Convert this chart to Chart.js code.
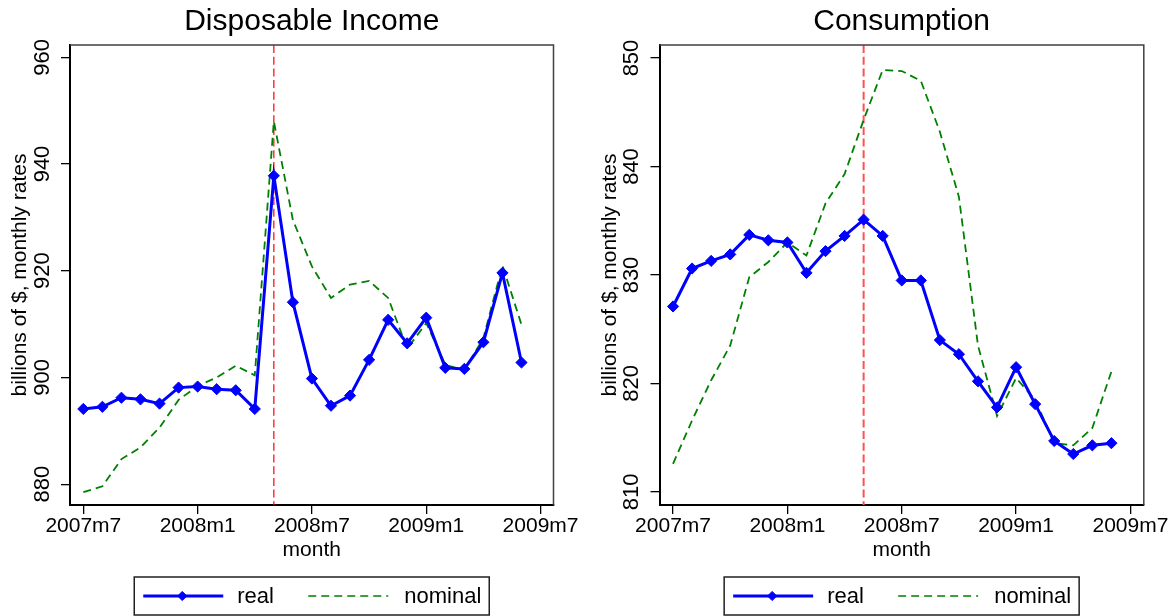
<!DOCTYPE html>
<html>
<head>
<meta charset="utf-8">
<title>Disposable Income and Consumption</title>
<script src="https://cdn.jsdelivr.net/npm/chart.js@4.4.1/dist/chart.umd.min.js"></script>
<style>
  html, body { margin: 0; padding: 0; background: #ffffff; }
  #wrap { position: relative; width: 1174px; height: 616px; overflow: hidden; background: #ffffff; }
  .panel { position: absolute; top: 0; width: 587px; height: 616px; }
  .panel canvas { display: block; }
</style>
</head>
<body>
<div id="wrap">
  <div class="panel" style="left:0px"><canvas id="income" width="587" height="616"></canvas></div>
  <div class="panel" style="left:587px"><canvas id="consumption" width="587" height="616"></canvas></div>
</div>
<script>
// Monthly observations, 2007m7 .. 2009m6 (billions of $, monthly rates)
const months = ['2007m7','2007m8','2007m9','2007m10','2007m11','2007m12',
                '2008m1','2008m2','2008m3','2008m4','2008m5','2008m6',
                '2008m7','2008m8','2008m9','2008m10','2008m11','2008m12',
                '2009m1','2009m2','2009m3','2009m4','2009m5','2009m6'];

const incomeReal    = [894.1, 894.5, 896.2, 895.9, 895.1, 898.1, 898.3, 897.8, 897.6, 894.1,
                       937.8, 914.1, 899.8, 894.7, 896.6, 903.3, 910.8, 906.4, 911.2, 901.8,
                       901.6, 906.6, 919.6, 902.8];
const incomeNominal = [878.5, 879.6, 884.7, 886.9, 890.6, 895.8, 898.4, 900.0, 902.2, 900.4,
                       948.0, 929.5, 920.8, 914.9, 917.4, 918.1, 914.9, 905.4, 910.2, 902.4,
                       901.3, 907.4, 921.0, 909.9];

const consumptionReal    = [827.1, 830.6, 831.3, 831.9, 833.7, 833.2, 833.0, 830.2, 832.2, 833.6,
                            835.1, 833.6, 829.5, 829.5, 824.0, 822.7, 820.2, 817.8, 821.5, 818.1,
                            814.7, 813.5, 814.3, 814.5];
const consumptionNominal = [812.6, 816.6, 820.3, 823.5, 829.8, 831.2, 833.0, 831.8, 836.6, 839.3,
                            844.3, 848.9, 848.8, 847.9, 843.2, 837.2, 823.5, 817.0, 820.5, 818.5,
                            814.5, 814.3, 815.9, 821.1];

// Month of the one-off payment, marked by the dashed vertical line
const eventMonth = '2008m5';

// Axis tick labels
const xTickLabels = ['2007m7', '2008m1', '2008m7', '2009m1', '2009m7'];
const incomeTicks = [880, 900, 920, 940, 960];
const consumptionTicks = [810, 820, 830, 840, 850];

const seriesNames = ['real', 'nominal'];

// "2008m5" -> months since 2007m7
function monthIndex(label) {
  const [y, m] = label.split('m').map(Number);
  return (y - 2007) * 12 + (m - 7);
}

const FONT = '"Liberation Sans", Arial, Helvetica, sans-serif';
Chart.defaults.font.family = FONT;
Chart.defaults.color = '#000000';

const BLUE = '#0000ff';
const GREEN = '#008000';

// Dashed vertical reference line at the event month
const eventLine = {
  id: 'eventLine',
  beforeDatasetsDraw(chart, args, opts) {
    const x = chart.scales.x.getPixelForValue(monthIndex(opts.month));
    const { top, bottom } = chart.chartArea;
    const ctx = chart.ctx;
    ctx.save();
    ctx.strokeStyle = opts.color;
    ctx.lineWidth = opts.width;
    ctx.setLineDash([8, 3.7]);
    ctx.beginPath();
    ctx.moveTo(x, top);
    ctx.lineTo(x, bottom);
    ctx.stroke();
    ctx.restore();
  }
};

// Top and right edges of the plot region
const plotFrame = {
  id: 'plotFrame',
  afterDraw(chart) {
    const { left, right, top, bottom } = chart.chartArea;
    const ctx = chart.ctx;
    ctx.save();
    ctx.strokeStyle = '#404040';
    ctx.lineWidth = 1.5;
    ctx.beginPath();
    ctx.moveTo(left, top);
    ctx.lineTo(right, top);
    ctx.lineTo(right, bottom);
    ctx.stroke();
    ctx.restore();
  }
};

// Boxed legend centred under the plot region
const boxedLegend = {
  id: 'boxedLegend',
  afterDraw(chart) {
    const ctx = chart.ctx;
    const ca = chart.chartArea;
    const w = 355, h = 38;
    const x0 = (ca.left + ca.right) / 2 - w / 2;
    const y0 = 577;
    const cy = y0 + h / 2;
    const [real, nominal] = chart.data.datasets;
    ctx.save();
    ctx.strokeStyle = '#202020';
    ctx.lineWidth = 1.5;
    ctx.strokeRect(x0, y0, w, h);

    // real: solid line with diamond
    ctx.strokeStyle = real.borderColor;
    ctx.fillStyle = real.borderColor;
    ctx.lineWidth = 3;
    ctx.beginPath();
    ctx.moveTo(x0 + 9, cy);
    ctx.lineTo(x0 + 89, cy);
    ctx.stroke();
    ctx.lineWidth = 1;
    ctx.beginPath();
    const r = 4.6, mx = x0 + 48;
    ctx.moveTo(mx, cy - r);
    ctx.lineTo(mx + r, cy);
    ctx.lineTo(mx, cy + r);
    ctx.lineTo(mx - r, cy);
    ctx.closePath();
    ctx.fill();
    ctx.stroke();

    // nominal: dashed line
    ctx.strokeStyle = nominal.borderColor;
    ctx.lineWidth = 1.7;
    ctx.setLineDash([8, 5]);
    ctx.beginPath();
    ctx.moveTo(x0 + 174, cy);
    ctx.lineTo(x0 + 254, cy);
    ctx.stroke();
    ctx.setLineDash([]);

    ctx.fillStyle = '#000000';
    ctx.font = '22px ' + FONT;
    ctx.textBaseline = 'middle';
    ctx.textAlign = 'left';
    ctx.fillText(real.label, x0 + 103, cy + 1);
    ctx.fillText(nominal.label, x0 + 270, cy + 1);
    ctx.restore();
  }
};

function makeChart(canvasId, titleText, real, nominal, yTicks, geo) {
  const toPoints = vals => months.map((m, i) => ({ x: monthIndex(m), y: vals[i] }));
  return new Chart(document.getElementById(canvasId), {
    type: 'line',
    data: {
      datasets: [
        {
          label: seriesNames[0],
          data: toPoints(real),
          borderColor: BLUE,
          backgroundColor: BLUE,
          borderWidth: 3,
          pointStyle: 'rectRot',
          pointRadius: 5.6,
          pointBorderWidth: 1,
          pointBackgroundColor: BLUE,
          pointBorderColor: BLUE,
          tension: 0,
          order: 1
        },
        {
          label: seriesNames[1],
          data: toPoints(nominal),
          borderColor: GREEN,
          backgroundColor: GREEN,
          borderWidth: 1.8,
          borderDash: [8, 5],
          pointRadius: 0,
          tension: 0,
          order: 2
        }
      ]
    },
    options: {
      responsive: false,
      animation: false,
      events: [],
      layout: { padding: { left: 0, right: geo.rightPad, top: 0, bottom: 53 } },
      plugins: {
        legend: { display: false },
        tooltip: { enabled: false },
        title: {
          display: true,
          text: titleText,
          fullSize: false,
          color: '#000000',
          font: { size: 30, weight: 'normal', family: FONT, lineHeight: 1.2 },
          padding: { top: 4, bottom: 5 }
        },
        eventLine: { month: eventMonth, color: geo.lineColor, width: geo.lineWidth }
      },
      scales: {
        x: {
          type: 'linear',
          min: geo.xMin,
          max: geo.xMax,
          afterBuildTicks: axis => { axis.ticks = xTickLabels.map(l => ({ value: monthIndex(l) })); },
          afterFit: axis => { axis.height = 58; },
          ticks: {
            autoSkip: false,
            maxRotation: 0,
            minRotation: 0,
            padding: 0,
            color: '#000000',
            font: { size: 21, family: FONT },
            callback: (v, i) => xTickLabels[i]
          },
          grid: { display: true, drawOnChartArea: false, drawTicks: true, tickLength: 9, color: '#000000', lineWidth: 1.3 },
          border: { display: true, color: '#000000', width: 2 },
          title: { display: true, text: 'month', color: '#000000', font: { size: 21, family: FONT }, padding: { top: 0, bottom: 0 } }
        },
        y: {
          type: 'linear',
          min: geo.yMin,
          max: geo.yMax,
          afterBuildTicks: axis => { axis.ticks = yTicks.map(v => ({ value: v })); },
          afterFit: axis => { axis.width = geo.yAxisWidth; },
          ticks: {
            minRotation: 90,
            maxRotation: 90,
            crossAlign: 'center',
            padding: 0,
            color: '#000000',
            font: { size: 22, family: FONT },
            callback: v => String(v)
          },
          grid: { display: true, drawOnChartArea: false, drawTicks: true, tickLength: 9, color: '#000000', lineWidth: 1.3 },
          border: { display: true, color: '#000000', width: 2 },
          title: { display: true, text: 'billions of $, monthly rates', color: '#000000', font: { size: 21, family: FONT }, padding: { top: geo.yTitlePad, bottom: 0 } }
        }
      }
    },
    plugins: [eventLine, plotFrame, boxedLegend]
  });
}

makeChart('income', 'Disposable Income', incomeReal, incomeNominal, incomeTicks, {
  yAxisWidth: 70, rightPad: 33.5, yTitlePad: 7.5,
  xMin: -0.7, xMax: 24.68, yMin: 876.1, yMax: 962.3,
  lineColor: '#ff0000', lineWidth: 1.2
});

makeChart('consumption', 'Consumption', consumptionReal, consumptionNominal, consumptionTicks, {
  yAxisWidth: 72.5, rightPad: 30.2, yTitlePad: 10.5,
  xMin: -0.71, xMax: 24.7, yMin: 808.8, yMax: 851.2,
  lineColor: '#ff5050', lineWidth: 2
});
</script>
</body>
</html>
